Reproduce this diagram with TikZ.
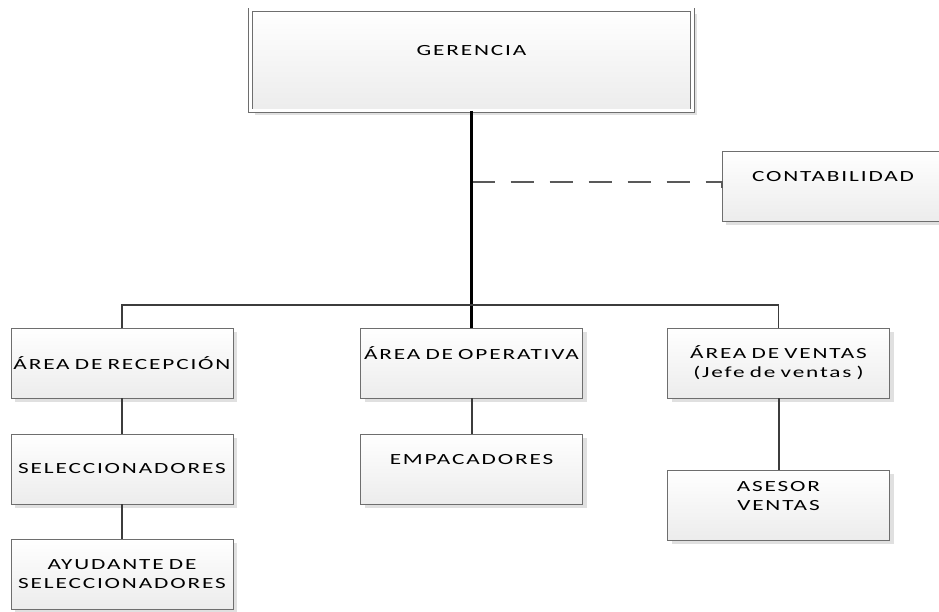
\documentclass[tikz,border=0pt]{standalone}
\usepackage{fontspec}
\newfontfamily\orgfont[FakeStretch=1.5,LetterSpace=12]{Carlito}
\usepackage{tikz}
\usetikzlibrary{positioning,shadows}
\definecolor{boxline}{RGB}{110,110,110}
\definecolor{boxfill}{RGB}{236,236,236}
\definecolor{linkgray}{RGB}{60,60,60}

\begin{document}
\begin{tikzpicture}[x=1pt,y=-1pt,
  box/.style={draw=boxline,line width=0.9pt,top color=white,bottom color=boxfill,
    text width=220pt,inner xsep=1pt,inner ysep=0pt,minimum height=70pt,outer sep=0pt,
    align=center,font=\orgfont\fontsize{15.5}{19}\selectfont,
    drop shadow={shadow xshift=4pt,shadow yshift=-4pt,fill=black!12,opacity=1}},
  link/.style={draw=linkgray,line width=2pt},
  dashline/.style={draw=black!65,line width=1.6pt,dash pattern=on 23pt off 16pt},
  node distance=36pt]
  \useasboundingbox (0,0) rectangle (939,612);
  \clip (0,0) rectangle (939,612);

  % cajas
  \node[box,double,double distance=3pt,line width=0.8pt,text width=440pt,minimum height=101pt]
    (ger) at (471.5,60.5) {GERENCIA\\[2pt]\mbox{}};
  \node[box,anchor=west] (conta) at (722,186) {CONTABILIDAD\\\mbox{}};
  \node[box] (recep) at (122,363) {ÁREA DE RECEPCIÓN};
  \node[box] (oper) at (471.5,363) {ÁREA DE OPERATIVA\\\mbox{}};
  \node[box] (ventas) at (778.5,363) {ÁREA DE VENTAS\\(Jefe de ventas )};
  \node[box,below=of recep] (selec) {SELECCIONADORES};
  \node[box,below=35pt of selec] (ayud) {AYUDANTE DE\\SELECCIONADORES};
  \node[box,below=of oper] (empac) {EMPACADORES\\\mbox{}};
  \node[box,below=72pt of ventas] (asesor) {ASESOR\\VENTAS\\\mbox{}};

  % lineas
  \coordinate (bus) at (471.5,305);
  \coordinate (cj) at (471.5,182);
  \draw[dashline] (cj) -- (cj -| conta.west) -- ([yshift=-16pt]conta.west);
  \draw[link,draw=black,line width=2.6pt] (ger.south) -- (oper.north);
  \draw[link,line width=1.8pt] (recep.north) |- (bus) -| (ventas.north);
  \draw[link] (recep) -- (selec);
  \draw[link] (selec) -- (ayud);
  \draw[link] (oper) -- (empac);
  \draw[link] (ventas) -- (asesor);
\end{tikzpicture}
\end{document}
